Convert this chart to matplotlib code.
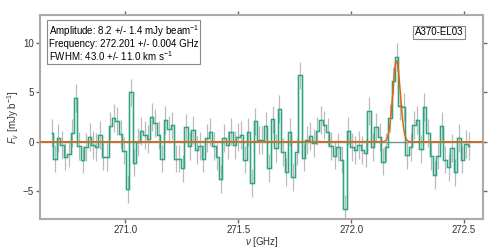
import numpy as np
import matplotlib
matplotlib.use("Agg")
import matplotlib.pyplot as plt

plt.rcParams['font.family'] = ['Liberation Sans', 'DejaVu Sans']
plt.rcParams['mathtext.fontset'] = 'custom'
plt.rcParams['mathtext.rm'] = 'Liberation Sans'
plt.rcParams['mathtext.it'] = 'Liberation Sans:italic'

# spectrum of A370-EL03, channel values in mJy/beam
nu_start = 270.674   # GHz, first channel centre
dnu = 0.01528        # GHz, channel width
flux = [0.9, -1.7, 0.35, -0.3, -1.5, -1.2, 0.9, 4.4, -0.4, -1.8,
        -0.5, 0.5, -0.3, -0.5, 0.7, -1.5, -1.55, 1.6, 2.4, 2.1,
        0.8, -0.9, -4.8, 5.0, -2.1, 0.0, 1.1, 0.7, 0.3, 2.5,
        1.9, 0.7, -1.7, 2.2, 1.25, 1.65, -1.7, -1.7, -2.7, 1.45,
        -0.45, 1.2, -0.85, -0.45, -1.7, 0.37, 0.97, -0.4, -1.5, -3.8,
        0.37, -0.3, 1.04, -0.3, 0.5, 0.7, -1.8, 0.97, -4.15, 2.06,
        0.16, 0.2, 1.58, -2.67, 2.26, -0.65, 3.3, -1.05, -3.08, 0.97,
        -3.55, -1.0, 6.72, -1.6, 0.2, 0.57, -0.1, 1.1, 2.2, 1.72,
        1.0, -0.4, -1.39, -0.5, -1.8, -6.8, 1.1, -0.5, -0.85, -0.3,
        -0.8, -1.15, 3.1, -0.5, 1.5, 0.5, -2.0, -0.5, 2.4, 6.2,
        8.6, 3.6, 3.5, -1.35, -0.5, 1.7, 2.2, -0.7, 3.5, 0.9,
        -1.46, -3.35, -1.4, 1.58, -1.8, -2.6, -0.65, -3.1, 0.35, -1.8,
        -0.2, -0.4]
rms = 1.4

# gaussian fit result
amp = 8.2
nu0 = 272.201
fwhm_kms = 43.0

flux = np.array(flux)
nu = nu_start + dnu * np.arange(len(flux))

sigma = fwhm_kms / 299792.458 * nu0 / 2.3548
nu_fine = np.linspace(270.62, 272.585, 2000)
model = amp * np.exp(-0.5 * ((nu_fine - nu0) / sigma) ** 2)

fig, ax = plt.subplots(figsize=(4.98, 2.49), dpi=100)
fig.subplots_adjust(left=0.080, right=0.970, top=0.940, bottom=0.120)

ax.axhline(0, color='#888888', lw=1, zorder=1)
ax.errorbar(nu, flux, yerr=rms, fmt='none', ecolor='#aaaaaa', elinewidth=0.9, alpha=0.8, zorder=2)
ax.plot(nu, flux, drawstyle='steps-mid', color='#1b9e77', lw=2.2, alpha=0.18, zorder=3)
ax.plot(nu, flux, drawstyle='steps-mid', color='#2ca585', lw=0.9, zorder=4)
ax.plot(nu_fine, model, color='#e0650f', lw=1.1, zorder=5)

ax.set_xlim(270.622, 272.584)
ax.set_ylim(-7.83, 12.84)
ax.set_yticks([-5, 0, 5, 10])
ax.set_xticks([271.0, 271.5, 272.0, 272.5])

for s in ax.spines.values():
    s.set_color('#aaaaaa')
    s.set_linewidth(1.5)
ax.tick_params(direction='out', length=3, width=1, color='#666666',
               labelsize=7, labelcolor='#333333', top=True, right=True, pad=1.5)

ax.set_xlabel(r'$\nu$ [GHz]', fontsize=7, color='#333333', labelpad=0)
ax.set_ylabel(r'$F_\nu$ [mJy b$^{-1}$]', fontsize=7, color='#333333', labelpad=1)

txt = ('Amplitude: 8.2 +/- 1.4 mJy beam$^{-1}$\n'
       'Frequency: 272.201 +/- 0.004 GHz\n'
       'FWHM: 43.0 +/- 11.0 km s$^{-1}$')
ax.text(0.02, 0.96, txt, transform=ax.transAxes, fontsize=7, va='top', ha='left',
        linespacing=1.0,
        bbox=dict(boxstyle='square,pad=0.15', fc='white', ec='#888888', lw=0.8))
ax.text(0.955, 0.94, 'A370-EL03', transform=ax.transAxes, fontsize=7, va='top', ha='right',
        bbox=dict(boxstyle='square,pad=0.15', fc='white', ec='#888888', lw=0.8))

plt.savefig('out.png', dpi=100)
